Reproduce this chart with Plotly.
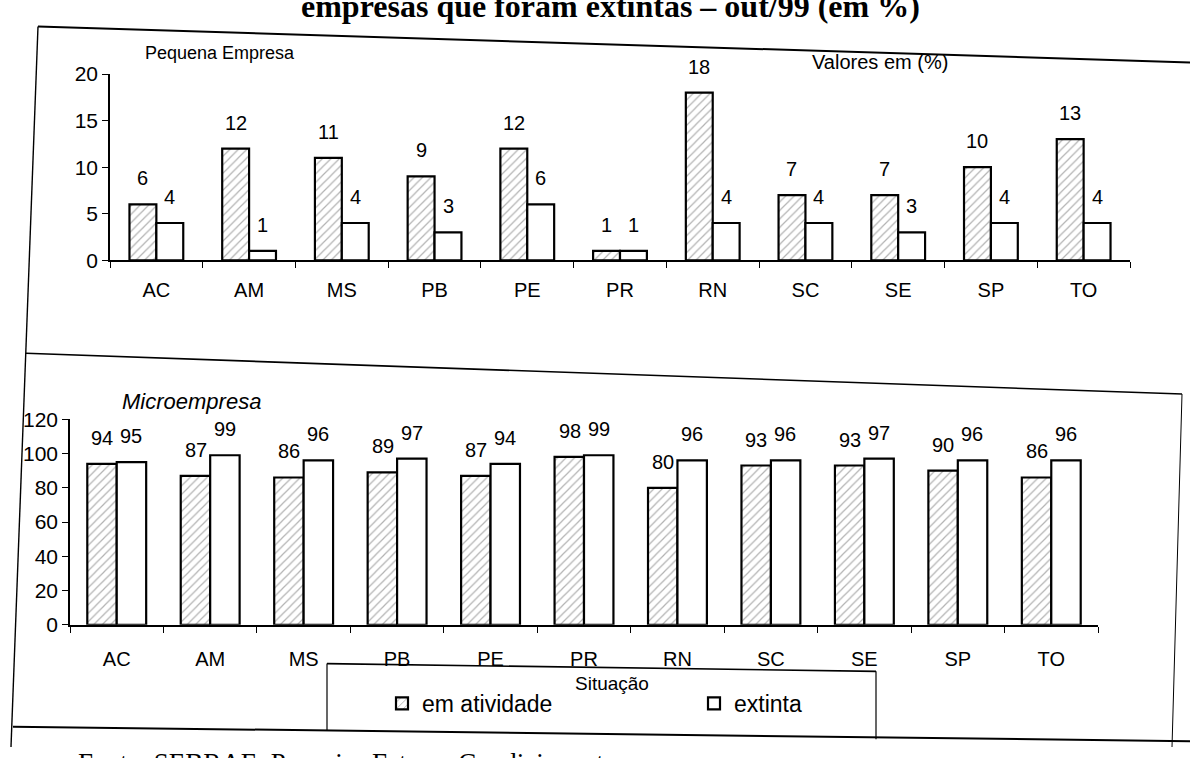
import plotly.graph_objects as go

# Unidades da federação
estados = ["AC", "AM", "MS", "PB", "PE", "PR", "RN", "SC", "SE", "SP", "TO"]

# Pequena empresa (%)
pe_atividade = [6, 12, 11, 9, 12, 1, 18, 7, 7, 10, 13]
pe_extinta = [4, 1, 4, 3, 6, 1, 4, 4, 3, 4, 4]

# Microempresa (%)
me_atividade = [94, 87, 86, 89, 87, 98, 80, 93, 93, 90, 86]
me_extinta = [95, 99, 96, 97, 94, 99, 96, 96, 97, 96, 96]

W, H = 1190, 758
FONT = "Liberation Sans, Arial, sans-serif"
SERIF = "Liberation Serif, Times New Roman, serif"


def px_x(p):
    return p / W


def px_y(p):
    return 1 - p / H


hatch = dict(shape="/", fgcolor="#666666", bgcolor="white", size=6, solidity=0.2)
outline = dict(color="black", width=2.2)

W_TOP, W_BOT = 0.29, 0.315

fig = go.Figure()

fig.add_trace(go.Bar(
    x=estados, y=pe_atividade, name="em atividade", xaxis="x", yaxis="y",
    width=W_TOP, offset=-W_TOP,
    marker=dict(color="white", line=outline, pattern=hatch), legendgroup="a"))
fig.add_trace(go.Bar(
    x=estados, y=pe_extinta, name="extinta", xaxis="x", yaxis="y",
    width=W_TOP, offset=0,
    marker=dict(color="white", line=outline), legendgroup="b"))
fig.add_trace(go.Bar(
    x=estados, y=me_atividade, name="em atividade", xaxis="x2", yaxis="y2",
    width=W_BOT, offset=-W_BOT,
    marker=dict(color="white", line=outline, pattern=hatch), legendgroup="a",
    showlegend=False))
fig.add_trace(go.Bar(
    x=estados, y=me_extinta, name="extinta", xaxis="x2", yaxis="y2",
    width=W_BOT, offset=0,
    marker=dict(color="white", line=outline), legendgroup="b",
    showlegend=False))

# value labels above each bar
annotations = []


def add_labels(vals, xref, yref, shift):
    for e, v in zip(estados, vals):
        annotations.append(dict(
            x=e, y=v, xref=xref, yref=yref, text=str(v), showarrow=False,
            xshift=shift, yshift=13, yanchor="bottom",
            font=dict(family=FONT, size=20, color="black")))


add_labels(pe_atividade, "x", "y", -13.5)
add_labels(pe_extinta, "x", "y", 13.5)
add_labels(me_atividade, "x2", "y2", -14.5)
add_labels(me_extinta, "x2", "y2", 14.5)

# panel captions and page text
annotations += [
    dict(x=px_x(143), y=px_y(42), xref="paper", yref="paper", text="Pequena Empresa",
         showarrow=False, xanchor="left", yanchor="middle",
         font=dict(family=FONT, size=18, color="black")),
    dict(x=px_x(810), y=px_y(52), xref="paper", yref="paper", text="Valores em (%)",
         showarrow=False, xanchor="left", yanchor="middle",
         font=dict(family=FONT, size=20, color="black")),
    dict(x=px_x(120), y=px_y(402), xref="paper", yref="paper", text="<i>Microempresa</i>",
         showarrow=False, xanchor="left", yanchor="middle",
         font=dict(family=FONT, size=22, color="black")),
    dict(x=px_x(612), y=px_y(693), xref="paper", yref="paper", text="Situação",
         showarrow=False, xanchor="center", yanchor="middle",
         font=dict(family=FONT, size=19, color="black")),
    dict(x=px_x(610), y=px_y(14), xref="paper", yref="paper",
         text="<b>empresas que foram extintas – out/99 (em %)</b>",
         showarrow=False, xanchor="center", yanchor="bottom",
         font=dict(family=SERIF, size=32, color="black")),
    dict(x=px_x(76), y=px_y(757), xref="paper", yref="paper",
         text="Fonte: SEBRAE. Pesquisa Fatores Condicionantes",
         showarrow=False, xanchor="left", yanchor="top",
         font=dict(family=SERIF, size=27, color="black")),
]

# frame lines around the panels and the legend box


def seg(x0, y0, x1, y1, width=1.6):
    return dict(type="line", xref="paper", yref="paper",
                x0=px_x(x0), y0=px_y(y0), x1=px_x(x1), y1=px_y(y1),
                line=dict(color="black", width=width))


shapes = [
    seg(38, 15, 1190, 52, 2),       # top edge
    seg(38, 15, 11, 758, 1.4),      # left edge
    seg(26, 352, 1182, 394, 1.6),   # panel divider
    seg(1182, 394, 1172, 758, 1),   # right edge (lower panel)
    seg(13, 737, 1190, 752, 2),     # bottom edge
    seg(327, 672, 876, 680, 1.6),   # legend box top
    seg(327, 672, 327, 741, 1.2),   # legend box left
    seg(876, 680, 876, 750, 1.2),   # legend box right
]

axis_common = dict(
    showline=True, linecolor="black", linewidth=1.6, showgrid=False, zeroline=False,
    ticks="outside", tickcolor="black", ticklen=6, tickwidth=1.2, fixedrange=True)
xfont = dict(family=FONT, size=20, color="black")
yfont = dict(family=FONT, size=21, color="black")

fig.update_layout(
    width=W, height=H, margin=dict(l=0, r=0, t=0, b=0),
    paper_bgcolor="white", plot_bgcolor="white",
    barmode="overlay",
    xaxis=dict(domain=[px_x(110), px_x(1130)], anchor="y", tickson="boundaries",
               ticklabelstandoff=11, tickfont=xfont, **axis_common),
    yaxis=dict(domain=[px_y(256), px_y(64)], anchor="x", range=[0, 20], dtick=5,
               tickfont=yfont, **axis_common),
    xaxis2=dict(domain=[px_x(70), px_x(1098)], anchor="y2", tickson="boundaries",
                ticklabelstandoff=15, tickfont=xfont, **axis_common),
    yaxis2=dict(domain=[px_y(632), px_y(420)], anchor="x2", range=[0, 120], dtick=20,
                tickfont=yfont, **axis_common),
    legend=dict(
        orientation="h", x=px_x(382), y=px_y(713), xanchor="left", yanchor="middle",
        bgcolor="rgba(0,0,0,0)", entrywidth=267, traceorder="normal",
        font=dict(family=FONT, size=23, color="black")),
    annotations=annotations,
    shapes=shapes,
    showlegend=True,
)

fig.write_html("out.html")
